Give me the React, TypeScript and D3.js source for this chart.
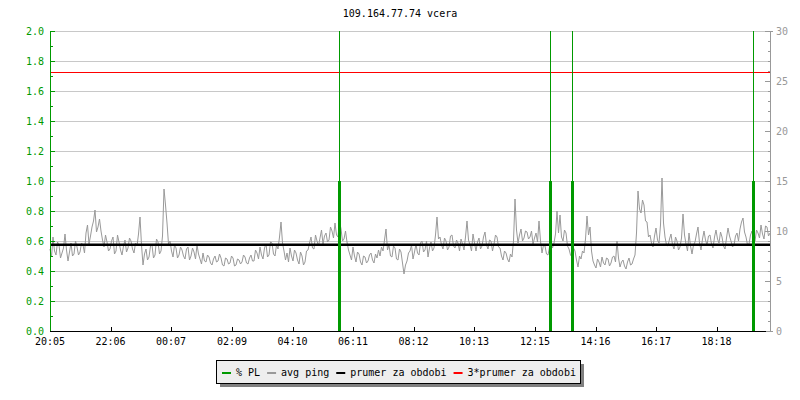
import React from "react";
import * as d3 from "d3";

// ---------- DATA ----------
const chartTitle = "109.164.77.74 vcera";
const xTickMinutes = [0, 121, 242, 364, 485, 606, 727, 848, 970, 1091, 1212, 1333];
const xTickLabels = ["20:05", "22:06", "00:07", "02:09", "04:10", "06:11", "08:12", "10:13", "12:15", "14:16", "16:17", "18:18"];
const leftTicks = [0, 0.2, 0.4, 0.6, 0.8, 1.0, 1.2, 1.4, 1.6, 1.8, 2.0];
const rightTicks = [0, 5, 10, 15, 20, 25, 30];
const sampleStepMinutes = 3;
// avg ping (ms), one value every 3 minutes starting 20:05
const pingValues = [
  8.2, 7.4, 9.4, 8.0, 7.6, 8.9, 8.6, 7.3, 7.8, 8.3, 9.7, 8.1, 7.0, 7.9, 8.8, 7.5, 7.7, 9.0, 8.4, 7.6,
  7.9, 8.8, 8.6, 7.8, 9.8, 10.6, 8.7, 9.5, 10.4, 11.0, 12.1, 9.9, 10.4, 11.2, 10.0, 9.1, 8.4, 9.6, 8.9, 8.0,
  8.2, 9.0, 9.4, 7.7, 8.0, 9.6, 8.9, 8.1, 7.6, 8.5, 9.1, 7.9, 8.3, 9.3, 9.0, 8.2, 7.8, 8.8, 8.5, 9.7,
  11.4, 8.6, 6.6, 7.7, 8.2, 7.1, 7.4, 8.5, 8.6, 7.3, 7.6, 9.2, 8.9, 7.7, 8.0, 9.5, 14.2, 12.6, 10.8, 8.7,
  9.0, 8.0, 7.4, 8.6, 8.3, 7.3, 7.6, 8.4, 8.1, 7.5, 7.2, 8.2, 8.4, 7.1, 7.5, 8.3, 7.9, 7.2, 8.6, 7.7,
  7.2, 6.7, 7.8, 7.0, 6.9, 7.6, 7.4, 6.8, 6.6, 7.2, 7.5, 6.9, 7.0, 7.7, 7.3, 6.6, 6.5, 7.3, 7.2, 6.7,
  6.8, 7.5, 7.3, 6.5, 6.6, 7.2, 7.1, 6.7, 6.9, 7.6, 7.4, 6.8, 6.7, 7.3, 7.6, 7.0, 7.0, 8.1, 7.8, 7.2,
  8.4, 7.6, 7.2, 8.3, 8.7, 7.4, 7.6, 8.9, 8.8, 7.7, 7.5, 8.6, 8.2, 9.4, 10.9, 8.8, 8.0, 7.1, 7.8, 6.9,
  8.3, 7.5, 7.0, 8.1, 7.8, 7.1, 6.7, 7.9, 7.5, 6.6, 6.9, 8.0, 8.1, 8.8, 9.4, 8.3, 8.2, 9.6, 9.0, 8.5,
  9.3, 10.1, 8.7, 9.5, 9.8, 8.9, 9.1, 10.4, 10.0, 9.3, 10.8, 9.6, 9.4, 11.0, 10.2, 9.0, 9.2, 10.0, 8.9, 8.1,
  7.6, 7.1, 8.4, 7.5, 6.9, 7.9, 7.7, 6.9, 6.6, 7.5, 7.4, 6.8, 7.0, 7.6, 7.8, 7.1, 6.8, 7.7, 7.3, 8.1,
  7.5, 8.4, 8.0, 9.1, 10.2, 8.1, 8.6, 7.5, 7.4, 8.5, 8.3, 7.2, 7.1, 8.2, 7.9, 6.8, 5.7, 6.6, 7.0, 7.8,
  8.0, 8.6, 7.2, 7.9, 8.7, 7.8, 7.6, 8.8, 9.0, 7.9, 8.1, 9.0, 7.4, 8.3, 8.9, 8.0, 8.3, 9.6, 11.4, 9.2,
  9.4, 8.6, 8.2, 9.3, 9.0, 8.1, 8.4, 9.5, 9.6, 8.5, 8.3, 9.1, 8.8, 8.0, 9.2, 8.7, 8.1, 9.4, 11.0, 9.1,
  8.6, 8.0, 9.7, 8.8, 8.0, 8.9, 9.3, 8.2, 8.5, 9.4, 9.9, 8.6, 8.2, 9.1, 9.0, 8.0, 8.7, 9.6, 9.4, 8.4,
  8.3, 7.5, 7.1, 8.0, 7.8, 7.2, 6.9, 7.7, 7.4, 9.0, 13.2, 10.1, 8.8, 9.6, 10.2, 9.0, 9.3, 10.0, 9.9, 9.2,
  9.4, 10.0, 8.7, 9.3, 9.8, 8.9, 11.0, 9.0, 7.8, 8.6, 8.5, 7.7, 7.6, 8.4, 9.2, 8.3, 8.8, 9.7, 12.0, 9.8,
  11.6, 9.4, 9.0, 10.1, 9.8, 8.5, 8.2, 7.6, 7.4, 8.3, 8.0, 7.1, 6.4, 7.5, 7.2, 8.0, 7.8, 9.2, 11.5, 9.6,
  10.4, 8.0, 7.0, 6.6, 6.3, 7.2, 6.9, 6.4, 7.4, 6.8, 6.6, 7.3, 7.2, 6.5, 6.8, 7.4, 7.5, 6.9, 9.0, 7.3,
  6.4, 6.9, 7.1, 6.5, 6.2, 6.9, 7.3, 6.6, 6.7, 7.2, 7.6, 9.8, 14.0, 12.2, 11.8, 13.1, 12.6, 11.0, 10.9, 9.4,
  9.6, 8.8, 8.4, 9.5, 10.3, 9.1, 8.8, 10.6, 15.3, 10.8, 9.4, 8.6, 8.5, 9.2, 9.7, 8.6, 8.2, 9.4, 9.0, 8.1,
  8.4, 9.3, 11.7, 9.6, 8.7, 8.0, 9.8, 8.5, 7.7, 8.6, 8.9, 9.7, 10.4, 8.8, 8.1, 9.2, 10.0, 9.1, 8.6, 9.5,
  9.6, 8.7, 8.3, 9.4, 10.1, 9.2, 8.8, 9.9, 9.4, 8.5, 8.2, 9.3, 10.3, 9.5, 9.0, 8.4, 8.6, 9.5, 9.8, 9.0,
  10.2, 10.9, 11.3, 9.9, 9.4, 8.6, 8.7, 9.6, 10.0, 9.2, 9.0, 10.1, 9.8, 9.3, 10.6, 9.7, 9.2, 10.5, 10.4, 9.5, 9.8,
];
// packet loss events (minutes since 20:05) and their values (%)
const plMinutes = [577, 999, 1044, 1405];
const plValues = [10, 10, 10, 10];
const plBarValues = [1, 1, 1, 1];
const meanPing = 8.63;
const triplePing = 25.9;
const legendLabels = ["% PL", "avg ping", "prumer za obdobi", "3*prumer za obdobi"];
const legendColors = ["#009900", "#999999", "#000000", "#ff0000"];

// ---------- LAYOUT ----------
const W = 800, H = 400;
const L = 50, R = 770, T = 31, B = 331;
const FONT = "'DejaVu Sans Mono', monospace";
const GREEN = "#009900";
const GRAY = "#999999";

export default function App() {
  const x = d3.scaleLinear().domain([0, 1440]).range([L, R]);
  const yL = d3.scaleLinear().domain([0, 2]).range([B, T]);
  const yR = d3.scaleLinear().domain([0, 30]).range([B, T]);

  const line = d3
    .line<number>()
    .x((_, i) => x(i * sampleStepMinutes))
    .y((d) => yR(d));

  const leftMinor = d3.range(0, 21).map((k) => k / 10);
  const rightMinor = d3.range(0, 31);

  const charW = 6.02;
  let lx = 222;
  const legendItems = legendLabels.map((lab, i) => {
    const item = { sx: lx, tx: lx + 14, lab, color: legendColors[i] };
    lx = lx + 14 + lab.length * charW + 7;
    return item;
  });

  return (
    <svg width={W} height={H} style={{ display: "block", position: "absolute", left: 0, top: 0 }} fontFamily={FONT}>
      <rect width={W} height={H} fill="#ffffff" />
      <text x={400} y={17} textAnchor="middle" fontSize={10} fill="#000">{chartTitle}</text>

      {/* gridlines */}
      {leftTicks.filter((v) => v > 0).map((v) => (
        <line key={"g" + v} x1={L} x2={R} y1={Math.round(yL(v)) + 0.5} y2={Math.round(yL(v)) + 0.5} stroke="#c8c8c8" strokeWidth={1} />
      ))}

      {/* avg ping */}
      <path d={line(pingValues) || ""} fill="none" stroke={GRAY} strokeWidth={1} />

      {/* mean lines */}
      <line x1={L} x2={R} y1={yR(meanPing)} y2={yR(meanPing)} stroke="#000" strokeWidth={2.5} />
      <line x1={L} x2={R} y1={Math.round(yR(triplePing)) + 0.5} y2={Math.round(yR(triplePing)) + 0.5} stroke="#ff0000" strokeWidth={1} />

      {/* packet loss */}
      {plMinutes.map((m, i) => (
        <g key={"pl" + i}>
          <line x1={Math.round(x(m)) + 0.5} x2={Math.round(x(m)) + 0.5} y1={B} y2={yL(Math.min(plValues[i], 2))} stroke={GREEN} strokeWidth={1} />
          <line x1={Math.round(x(m)) + 0.5} x2={Math.round(x(m)) + 0.5} y1={B} y2={yL(Math.min(plBarValues[i], 2))} stroke={GREEN} strokeWidth={3} />
        </g>
      ))}

      {/* left axis */}
      <line x1={L + 0.5} x2={L + 0.5} y1={T} y2={B} stroke={GREEN} strokeWidth={1} />
      {leftMinor.map((v, k) => (
        <line key={"lt" + k} x1={L} x2={L + (k % 2 === 0 ? 5 : 3)} y1={Math.round(yL(v)) + 0.5} y2={Math.round(yL(v)) + 0.5} stroke={GREEN} strokeWidth={1} />
      ))}
      {leftTicks.map((v) => (
        <text key={"ll" + v} x={44} y={yL(v) + 4} textAnchor="end" fontSize={10} fill={GREEN}>{v.toFixed(1)}</text>
      ))}

      {/* right axis */}
      <line x1={R + 0.5} x2={R + 0.5} y1={T} y2={B} stroke={GRAY} strokeWidth={1} />
      {rightMinor.map((v) => (
        <line key={"rt" + v} x1={R - (v % 5 === 0 ? 5 : 2)} x2={R + (v === 0 || v === 30 ? 3 : 0)} y1={Math.round(yR(v)) + 0.5} y2={Math.round(yR(v)) + 0.5} stroke={GRAY} strokeWidth={1} />
      ))}
      {rightTicks.map((v) => (
        <text key={"rl" + v} x={776} y={yR(v) + 4} textAnchor="start" fontSize={10} fill={GRAY}>{v}</text>
      ))}

      {/* bottom axis */}
      <line x1={L} x2={R - 4} y1={B + 0.5} y2={B + 0.5} stroke="#000" strokeWidth={1} />
      {xTickMinutes.map((m, i) => (
        <g key={"xt" + i}>
          {i > 0 && <line x1={Math.round(x(m)) + 0.5} x2={Math.round(x(m)) + 0.5} y1={B - 4} y2={B} stroke="#000" strokeWidth={1} />}
          <text x={x(m)} y={345} textAnchor="middle" fontSize={10} fill="#000">{xTickLabels[i]}</text>
        </g>
      ))}

      {/* legend */}
      <rect x={220} y={364} width={364} height={23} fill="#808080" />
      <rect x={216.5} y={360.5} width={364} height={23} fill="#eeeeee" stroke="#000" strokeWidth={1} />
      {legendItems.map((it, i) => (
        <g key={"lg" + i}>
          <line x1={it.sx} x2={it.sx + 9} y1={373} y2={373} stroke={it.color} strokeWidth={2} />
          <text x={it.tx} y={376} fontSize={10} fill="#000">{it.lab}</text>
        </g>
      ))}
    </svg>
  );
}
